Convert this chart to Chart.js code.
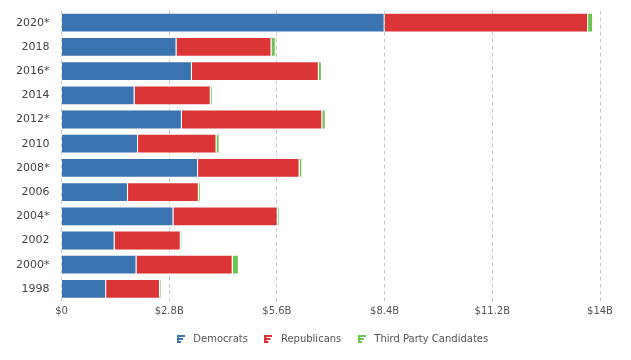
<!DOCTYPE html>
<html>
<head>
<meta charset="utf-8">
<script src="https://cdn.jsdelivr.net/npm/chart.js@4"></script>
<style>
  html, body { margin: 0; padding: 0; background: #fff; }
  #wrap { width: 631px; height: 360px; }
</style>
</head>
<body>
<div id="wrap"><canvas id="chart1"></canvas></div>
<script>
const cycles = ['2020*', '2018', '2016*', '2014', '2012*', '2010', '2008*', '2006', '2004*', '2002', '2000*', '1998'];
// spending in billions of dollars
const democrats = [8.40, 2.99, 3.39, 1.90, 3.13, 1.99, 3.55, 1.73, 2.91, 1.38, 1.95, 1.16];
const republicans = [5.29, 2.47, 3.30, 1.98, 3.65, 2.04, 2.64, 1.84, 2.71, 1.72, 2.50, 1.40];
const thirdParty = [0.13, 0.11, 0.08, 0.05, 0.09, 0.08, 0.07, 0.05, 0.05, 0.03, 0.16, 0.03];
const xTicks = [0, 2.8, 5.6, 8.4, 11.2, 14];

const BLUE = '#3A73B0';
const RED = '#DC3538';
const GREEN = '#6BC454';

// little bar-chart icon for the legend
function barIcon(color) {
    const c = document.createElement('canvas');
    c.width = 8; c.height = 10;
    const g = c.getContext('2d');
    g.fillStyle = color;
    g.fillRect(0, 1, 2, 8);
    g.fillRect(2, 1, 6, 2);
    g.fillRect(2, 4, 4, 2);
    g.fillRect(2, 7, 2, 2);
    return c;
}

Chart.defaults.font.family = '"DejaVu Sans", Verdana, sans-serif';

const ctx = document.getElementById('chart1').getContext('2d');

new Chart(ctx, {
    type: 'bar',
    data: {
        labels: cycles,
        datasets: [
            { label: 'Democrats', data: democrats, backgroundColor: BLUE, borderColor: 'rgba(255,255,255,0.45)', borderWidth: 1, pointStyle: barIcon(BLUE) },
            { label: 'Republicans', data: republicans, backgroundColor: RED, borderColor: 'rgba(255,255,255,0.45)', borderWidth: 1, pointStyle: barIcon(RED) },
            { label: 'Third Party Candidates', data: thirdParty, backgroundColor: GREEN, borderColor: 'rgba(255,255,255,0.45)', borderWidth: 1, pointStyle: barIcon(GREEN) }
        ]
    },
    options: {
        indexAxis: 'y',
        responsive: true,
        maintainAspectRatio: false,
        animation: false,
        layout: { padding: { top: 4, right: 31, left: 12, bottom: 6 } },
        datasets: { bar: { barPercentage: 0.82, categoryPercentage: 1 } },
        scales: {
            x: {
                stacked: true,
                min: 0,
                max: 14,
                afterBuildTicks: function(axis) {
                    axis.ticks = xTicks.map(v => ({ value: v }));
                },
                ticks: {
                    color: '#555',
                    font: { size: 10 },
                    padding: 4,
                    callback: function(v) {
                        const n = Math.round(v * 10) / 10;
                        return n === 0 ? '$0' : '$' + n + 'B';
                    }
                },
                grid: { color: '#c8c8c8', drawTicks: false, tickBorderDash: [4, 3] },
                border: { display: false, dash: [4, 3] }
            },
            y: {
                stacked: true,
                ticks: { color: '#444', font: { size: 11 }, padding: 4 },
                grid: { display: false },
                border: { display: false }
            }
        },
        plugins: {
            legend: {
                position: 'bottom',
                fullSize: false,
                labels: {
                    usePointStyle: true,
                    pointStyleWidth: 15,
                    color: '#555',
                    font: { size: 10 },
                    boxWidth: 10,
                    boxHeight: 10,
                    padding: 13
                }
            },
            tooltip: { enabled: false }
        }
    }
});
</script>
</body>
</html>
